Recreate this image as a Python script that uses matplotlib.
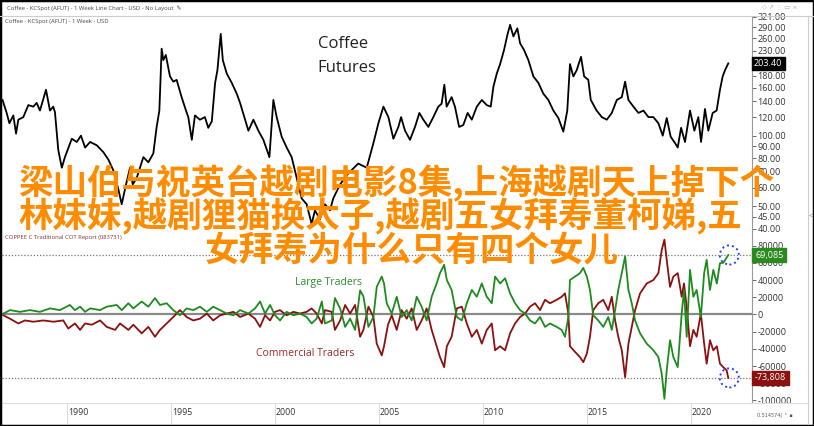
import matplotlib
matplotlib.use("Agg")
import matplotlib.pyplot as plt
from matplotlib.patches import Rectangle, Ellipse
from matplotlib.lines import Line2D
from matplotlib.transforms import blended_transform_factory, offset_copy
from matplotlib.ticker import FixedLocator, FixedFormatter, NullLocator

plt.rcParams['font.family'] = ['Open Sans', 'Noto Sans CJK SC', 'DejaVu Sans']

# ---------------- data ----------------
price_years = [1986.9, 1987.1, 1987.23, 1987.42, 1987.55, 1987.66, 1987.9, 1988.14, 1988.38, 1988.54,
               1988.7, 1988.99, 1989.18, 1989.34, 1989.42, 1989.58, 1989.75, 1989.9, 1990.23, 1990.47,
               1990.67, 1990.87, 1991.11, 1991.43, 1991.75, 1991.99, 1992.23, 1992.47, 1992.63, 1992.84,
               1993.03, 1993.16, 1993.35, 1993.51, 1993.67, 1993.91, 1994.15, 1994.31, 1994.44, 1994.55,
               1994.63, 1994.75, 1994.95, 1995.11, 1995.27, 1995.51, 1995.72, 1995.83, 1996.0, 1996.15,
               1996.39, 1996.63, 1996.79, 1996.96, 1997.12, 1997.23, 1997.39, 1997.49, 1997.68, 1997.92,
               1998.16, 1998.32, 1998.56, 1998.72, 1998.96, 1999.2, 1999.44, 1999.73, 1999.92, 2000.08,
               2000.32, 2000.56, 2000.8, 2001.04, 2001.28, 2001.52, 2001.76, 2001.92, 2002.16, 2002.4,
               2002.64, 2002.8, 2003.13, 2003.52, 2004.0, 2004.41, 2004.73, 2004.97, 2005.21, 2005.45,
               2005.69, 2005.93, 2006.06, 2006.25, 2006.49, 2006.73, 2006.94, 2007.13, 2007.37, 2007.61,
               2007.85, 2008.01, 2008.14, 2008.25, 2008.49, 2008.65, 2008.85, 2009.05, 2009.26, 2009.46,
               2009.7, 2009.94, 2010.18, 2010.37, 2010.5, 2010.66, 2010.82, 2011.01, 2011.17, 2011.3,
               2011.46, 2011.65, 2011.78, 2011.97, 2012.18, 2012.42, 2012.66, 2012.9, 2013.14, 2013.38,
               2013.62, 2013.86, 2014.05, 2014.18, 2014.34, 2014.5, 2014.71, 2014.86, 2015.06, 2015.18,
               2015.46, 2015.71, 2015.95, 2016.19, 2016.43, 2016.67, 2016.83, 2016.99, 2017.23, 2017.47,
               2017.71, 2017.95, 2018.19, 2018.43, 2018.64, 2018.83, 2019.02, 2019.23, 2019.36, 2019.52,
               2019.71, 2019.95, 2020.16, 2020.35, 2020.48, 2020.67, 2020.83, 2021.04, 2021.23, 2021.39,
               2021.52, 2021.63, 2021.79]
price_values = [142, 125, 113, 122, 102, 117, 120, 135, 133, 138,
                128, 157, 128, 133, 126, 87, 73, 81, 97, 94,
                100, 89, 94, 91, 85, 79, 71, 59, 51, 62,
                73, 62, 66, 73, 81, 77, 84, 109, 128, 235,
                210, 221, 179, 170, 173, 146, 128, 120, 96, 122,
                117, 120, 108, 115, 168, 190, 272, 210, 184, 168,
                151, 138, 117, 105, 117, 105, 96, 81, 142, 120,
                99, 89, 81, 66, 54, 51, 42, 48, 44, 51,
                48, 54, 62, 69, 76, 73, 93, 113, 133, 120,
                97, 109, 120, 105, 96, 109, 125, 117, 109, 120,
                133, 137, 165, 133, 146, 133, 109, 111, 125, 117,
                133, 142, 135, 133, 162, 184, 202, 232, 269, 297,
                265, 287, 248, 232, 210, 179, 168, 151, 142, 128,
                119, 104, 128, 202, 179, 190, 217, 179, 173, 142,
                128, 120, 117, 125, 142, 146, 170, 142, 133, 125,
                128, 120, 120, 113, 100, 119, 99, 93, 89, 108,
                94, 128, 105, 120, 94, 130, 105, 125, 128, 157,
                179, 190, 203.40]

large_years = [1986.94, 1987.26, 1987.74, 1988.22, 1988.70, 1989.18, 1989.66, 1990.14, 1990.38, 1990.63,
               1990.87, 1991.11, 1991.59, 1991.91, 1992.39, 1992.63, 1992.95, 1993.19, 1993.59, 1993.91,
               1994.23, 1994.47, 1994.79, 1995.11, 1995.43, 1995.75, 1996.07, 1996.39, 1996.72, 1997.03,
               1997.36, 1997.68, 1998.0, 1998.32, 1998.72, 1999.04, 1999.28, 1999.52, 1999.76, 2000.0,
               2000.24, 2000.56, 2000.88, 2001.2, 2001.52, 2001.76, 2002.0, 2002.25, 2002.40, 2002.73,
               2002.88, 2003.13, 2003.37, 2003.61, 2003.85, 2004.09, 2004.25, 2004.49, 2004.73, 2004.89,
               2005.13, 2005.24, 2005.37, 2005.61, 2005.85, 2006.09, 2006.33, 2006.57, 2006.81, 2007.05,
               2007.29, 2007.53, 2007.77, 2007.93, 2008.13, 2008.26, 2008.49, 2008.74, 2008.98, 2009.22,
               2009.46, 2009.70, 2009.94, 2010.18, 2010.42, 2010.58, 2010.82, 2011.06, 2011.30, 2011.54,
               2011.78, 2012.02, 2012.26, 2012.50, 2012.74, 2012.98, 2013.22, 2013.54, 2013.78, 2013.94,
               2014.10, 2014.18, 2014.42, 2014.66, 2014.82, 2014.99, 2015.14, 2015.30, 2015.54, 2015.78,
               2016.02, 2016.19, 2016.35, 2016.50, 2016.67, 2016.83, 2016.99, 2017.15, 2017.31, 2017.55,
               2017.87, 2018.19, 2018.43, 2018.59, 2018.72, 2018.83, 2018.99, 2019.15, 2019.36, 2019.55,
               2019.66, 2019.79, 2019.95, 2020.11, 2020.27, 2020.47, 2020.63, 2020.75, 2020.91, 2021.07,
               2021.24, 2021.39, 2021.55, 2021.79]
large_values = [1000, 5000, 3000, 5000, 3000, 7000, 5000, 11000, 5000, 9000,
                3000, 7000, 5000, 9000, 11000, 5000, 13000, 7000, 15000, 9000,
                19000, 11000, 13000, 5000, -1000, 7000, 5000, 9000, 3000, 9000,
                5000, 1000, -1000, 5000, 1000, 7000, 15000, 1000, 11000, -1000,
                -7000, 3000, -1000, 1000, -3000, -10500, -5000, 15000, -10500, -7000,
                19000, 7000, -14500, -5000, -18000, 28000, 21000, -14500, -3000, 32000,
                44000, 36000, 13000, 1000, 20500, -3000, 5000, -7000, 20500, 9000,
                -7000, 20500, 36000, 48000, 57700, 40000, 28500, -3000, -7000, 13000,
                28500, 20500, 36000, 20500, 13000, 44000, 36000, 42000, 24500, 13000,
                5000, 1000, -7000, -10500, -3000, -14500, -10500, -14500, -18000, -26000,
                -3000, 40000, 44000, 48000, 54000, 44000, 28500, -1000, -7000, -14500,
                -3000, -18000, 5000, 28500, 48000, 67500, 28500, 13000, -7000, -22000,
                -34000, -41700, -49600, -69000, -98200, -65000, -30000, -49600, -61300, 1000,
                28500, -26000, 51800, 20500, 28500, -3000, 48000, 63500, 28500, 51800,
                36000, 59600, 60000, 69085]

comm_years = [1986.94, 1987.26, 1987.66, 1987.98, 1988.38, 1988.86, 1989.34, 1989.82, 1990.06, 1990.38,
              1990.63, 1990.87, 1991.19, 1991.59, 1991.91, 1992.31, 1992.55, 1992.95, 1993.19, 1993.59,
              1993.91, 1994.23, 1994.47, 1994.79, 1995.11, 1995.43, 1995.75, 1996.07, 1996.39, 1996.72,
              1997.03, 1997.36, 1997.68, 1998.0, 1998.32, 1998.72, 1999.04, 1999.28, 1999.52, 1999.76,
              2000.0, 2000.24, 2000.56, 2000.88, 2001.2, 2001.52, 2001.76, 2002.0, 2002.25, 2002.40,
              2002.73, 2002.88, 2003.13, 2003.37, 2003.61, 2003.85, 2004.09, 2004.25, 2004.49, 2004.73,
              2004.89, 2005.13, 2005.24, 2005.43, 2005.61, 2005.85, 2006.09, 2006.33, 2006.57, 2006.81,
              2007.05, 2007.29, 2007.53, 2007.77, 2007.93, 2008.13, 2008.26, 2008.49, 2008.74, 2008.98,
              2009.22, 2009.46, 2009.70, 2009.94, 2010.18, 2010.42, 2010.58, 2010.82, 2011.06, 2011.30,
              2011.54, 2011.78, 2012.02, 2012.26, 2012.50, 2012.74, 2012.98, 2013.22, 2013.54, 2013.78,
              2013.94, 2014.10, 2014.18, 2014.42, 2014.66, 2014.82, 2014.99, 2015.14, 2015.30, 2015.54,
              2015.78, 2016.02, 2016.19, 2016.35, 2016.50, 2016.67, 2016.83, 2016.99, 2017.15, 2017.31,
              2017.55, 2017.87, 2018.19, 2018.43, 2018.59, 2018.72, 2018.83, 2018.99, 2019.15, 2019.36,
              2019.55, 2019.66, 2019.79, 2019.95, 2020.11, 2020.27, 2020.47, 2020.63, 2020.75, 2020.91,
              2021.07, 2021.24, 2021.39, 2021.55, 2021.71, 2021.79]
comm_values = [-1000, -5000, -10500, -7000, -8500, -7000, -8500, -7000, -16400, -10500,
               -18000, -10500, -12000, -7000, -14500, -18000, -10500, -18000, -12000, -22000,
               -14500, -26000, -18000, -10500, -3000, 5000, -3000, -7000, -5000, 1000,
               -7000, -1000, 1000, 3000, -3000, 1000, -5000, -14500, -1000, -7000,
               3000, 5000, -1000, 3000, 1000, 3000, 7000, 1000, -10500, 5000,
               3000, -18000, -7000, 11000, 1000, 11000, -26000, -18000, 9000, -3000,
               -34000, -47600, -37000, -12000, -1000, -18000, 5000, -5000, 7000, -18000,
               -7000, 7000, -18000, -37000, -49600, -61300, -37000, -26000, 7000, 9000,
               -10500, -26000, -18000, -34000, -18000, -10500, -41700, -37000, -41700, -22000,
               -10500, -3000, 1000, 9000, 13000, 5000, 17000, 13000, 17000, 20500,
               24500, 1000, -37000, -43500, -49600, -55500, -45600, -26000, 5000, 13000,
               17000, 5000, 20500, -7000, -26000, -41700, -73000, -34000, -14500, 5000,
               24500, 36000, 40000, 48000, 75000, 87000, 63500, 32000, 44000, 48000,
               20500, 36000, 9000, -37000, -18000, -26000, 1000, -34000, -57300, -30000,
               -41700, -37000, -57300, -61300, -65000, -73808]

price_ticks = [40, 45, 50, 60, 70, 80, 90, 100, 120, 140, 160, 180, 230, 260, 290, 321]
cot_ticks = [-100000, -80000, -60000, -40000, -20000, 0, 20000, 40000, 60000, 80000]
year_ticks = [1990, 1995, 2000, 2005, 2010, 2015, 2020]

title_lines = ["梁山伯与祝英台越剧电影8集,上海越剧天上掉下个",
               "林妹妹,越剧狸猫换太子,越剧五女拜寿董柯娣,五",
               "女拜寿为什么只有四个女儿"]

# ---------------- layout ----------------
W, H = 814, 426
fig = plt.figure(figsize=(W / 100, H / 100), dpi=100)
fig.patch.set_facecolor('white')


def rect(x0, y0, x1, y1):
    return [x0 / W, 1 - y1 / H, (x1 - x0) / W, (y1 - y0) / H]


XMIN, XMAX = 1986.875, 2022.93
GREEN = '#1f8a1f'
RED = '#8b1010'
AXC = '#333333'

# top panel
ax1 = fig.add_axes(rect(2, 16, 752, 231))
ax1.plot(price_years, price_values, color='black', lw=1.3)
ax1.set_yscale('log')
ax1.set_ylim(39.2, 324)
ax1.set_xlim(XMIN, XMAX)
ax1.yaxis.tick_right()
ax1.yaxis.set_major_locator(FixedLocator(price_ticks))
ax1.yaxis.set_major_formatter(FixedFormatter([f"{v:.2f}" for v in price_ticks]))
ax1.yaxis.set_minor_locator(NullLocator())
ax1.tick_params(axis='y', which='major', direction='out', length=3, width=0.7,
                colors='#666666', labelcolor=AXC, labelsize=6.5, pad=1)
ax1.set_xticks([])
for s in ['top', 'left']:
    ax1.spines[s].set_visible(False)
ax1.spines['bottom'].set_color('#dddddd')
ax1.spines['right'].set_color('#999999')
ax1.text(0.421, 0.87, "Coffee", transform=ax1.transAxes, fontsize=12, color='#222222', va='center')
ax1.text(0.420, 0.76, "Futures", transform=ax1.transAxes, fontsize=12, color='#222222', va='center')

# current price box
tr1 = blended_transform_factory(ax1.transAxes, ax1.transData)
ax1.text(1.0, price_values[-1], f"{price_values[-1]:.2f}", transform=offset_copy(tr1, fig=fig, x=2, y=0, units='dots'),
         ha='left', va='center', fontsize=6.5, color='white',
         bbox=dict(boxstyle='square,pad=0.25', fc='black', ec='black'), clip_on=False, zorder=5)

# bottom panel
ax2 = fig.add_axes(rect(2, 231, 752, 403))
ax2.axhline(0, color='#8a8a8a', lw=1.6, zorder=1)
ax2.axhline(large_values[-1], color='#777777', lw=0.9, ls=(0, (1, 1.5)), zorder=1)
ax2.axhline(comm_values[-1], color='#777777', lw=0.9, ls=(0, (1, 1.5)), zorder=1)
ax2.plot(comm_years, comm_values, color=RED, lw=1.3, zorder=2)
ax2.plot(large_years, large_values, color=GREEN, lw=1.3, zorder=3)
ax2.set_xlim(XMIN, XMAX)
ax2.set_ylim(-103000, 97000)
ax2.yaxis.tick_right()
ax2.yaxis.set_major_locator(FixedLocator(cot_ticks))
ax2.yaxis.set_major_formatter(FixedFormatter([str(v) for v in cot_ticks]))
ax2.tick_params(axis='y', direction='out', length=3, width=0.7, colors='#666666',
                labelcolor=AXC, labelsize=6.5, pad=1)
ax2.set_xticks([])
for s in ['top', 'left', 'bottom']:
    ax2.spines[s].set_visible(False)
ax2.spines['right'].set_color('#999999')

# blue dotted circles at last values
rx = 9.5 / 20.8
ry = 9.5 / 17.1 * 20000
for yv in (large_values[-1], comm_values[-1]):
    ax2.add_patch(Ellipse((large_years[-1] + 0.05, yv), 2 * rx, 2 * ry, fill=False,
                          ec='#2a3cff', lw=1.4, ls=(0, (1, 1.6)), zorder=6))

tr2 = blended_transform_factory(ax2.transAxes, ax2.transData)
ax2.text(1.0, large_values[-1], f"{large_values[-1]:,}", transform=offset_copy(tr2, fig=fig, x=3, y=0, units='dots'),
         ha='left', va='center', fontsize=6.5, color='white',
         bbox=dict(boxstyle='square,pad=0.3', fc='#2a8a1e', ec='#2a8a1e'), clip_on=False, zorder=5)
ax2.text(1.0, comm_values[-1], f"{comm_values[-1]:,}", transform=offset_copy(tr2, fig=fig, x=3, y=0, units='dots'),
         ha='left', va='center', fontsize=6.5, color='white',
         bbox=dict(boxstyle='square,pad=0.3', fc='#8b1010', ec='#8b1010'), clip_on=False, zorder=5)

ax2.text(0.391, 0.70, "Large Traders", transform=ax2.transAxes, fontsize=7.5, color='#2e8b2e', va='center')
ax2.text(0.339, 0.29, "Commercial Traders", transform=ax2.transAxes, fontsize=7.5, color='#a02828', va='center')

# date strip
ax3 = fig.add_axes(rect(2, 403, 752, 424))
ax3.set_xlim(XMIN, XMAX)
ax3.set_ylim(0, 1)
ax3.set_xticks([])
ax3.set_yticks([])
for s in ['left', 'right', 'bottom']:
    ax3.spines[s].set_visible(False)
ax3.spines['top'].set_color('#dddddd')
for yr in year_ticks:
    ax3.axvline(yr, color='#dddddd', lw=0.8)
    ax3.text(yr + 0.05, 0.55, str(yr), fontsize=6.3, color=AXC, ha='left', va='center')

# ---------------- chrome ----------------
fig.add_artist(Line2D([0, 1], [1 - 16 / H, 1 - 16 / H], transform=fig.transFigure, color='#cccccc', lw=0.8))
fig.add_artist(Line2D([808 / W, 808 / W], [1 - 424 / H, 1 - 16 / H], transform=fig.transFigure, color='#cccccc', lw=0.8))
fig.add_artist(Line2D([752 / W, 808 / W], [1 - 403 / H, 1 - 403 / H], transform=fig.transFigure, color='#dddddd', lw=0.8))
fig.text(7 / W, 1 - 8.5 / H, "Coffee - KCSpot (AFUT) - 1 Week Line Chart - USD - No Layout  ✎",
         fontsize=4.2, color='#444444', va='center', family=['Open Sans', 'DejaVu Sans'])
fig.text(5 / W, 1 - 22 / H, "Coffee - KCSpot (AFUT) - 1 Week - USD", fontsize=4.2, color='#444444', va='center')
fig.text(5 / W, 1 - 238 / H, "COPPEE C Traditional COT Report (083731)", fontsize=4.2, color='#8b3030', va='center')
fig.text(762 / W, 1 - 7 / H, "◇ ↗ ⋮ ▭ ×", fontsize=4.5, color='#aaaaaa', va='center', family=['DejaVu Sans'])
fig.text(757 / W, 1 - 416 / H, "0.514574( ⌃ ▪", fontsize=3.5, color='#555555', va='center', family=['DejaVu Sans'])
fig.text(810.5 / W, 1 - 216 / H, "<", fontsize=5, color='#777777', va='center', ha='center')
fig.add_artist(Rectangle((0, 0), 1, 1, transform=fig.transFigure, fill=False, ec='black', lw=2.5))

# overlay title
line_pos = [(18, 183), (18, 216), (205, 251)]
for txt, (lx, ly) in zip(title_lines, line_pos):
    fig.text(lx / W, 1 - ly / H, txt, fontsize=24.8, color='#FF8C00', fontweight='bold',
             ha='left', va='center', family=['Noto Sans CJK SC', 'DejaVu Sans'], zorder=10)

fig.savefig('out.png', dpi=100, facecolor='white')
